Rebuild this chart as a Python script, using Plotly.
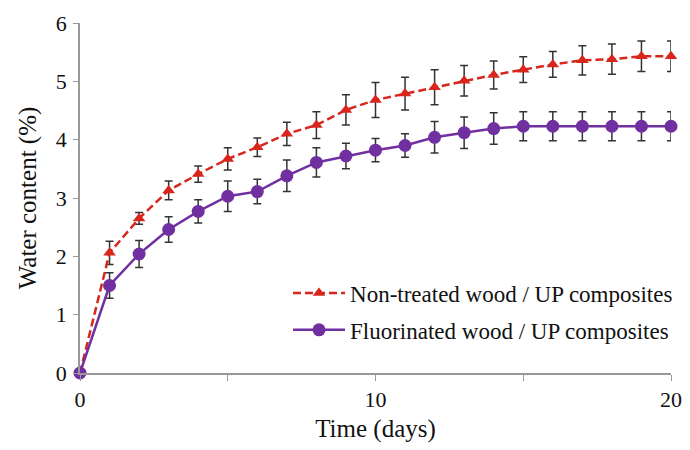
import plotly.graph_objects as go

days = list(range(0, 21))

nontreated = [0, 2.06, 2.65, 3.13, 3.41, 3.67, 3.87, 4.10, 4.25, 4.51, 4.68,
              4.79, 4.90, 5.01, 5.11, 5.20, 5.29, 5.36, 5.38, 5.43, 5.43]
nontreated_err = [0, 0.20, 0.10, 0.16, 0.14, 0.19, 0.16, 0.20, 0.23, 0.26, 0.30,
                  0.28, 0.30, 0.26, 0.24, 0.22, 0.22, 0.25, 0.26, 0.26, 0.26]

fluorinated = [0, 1.50, 2.04, 2.46, 2.77, 3.03, 3.11, 3.38, 3.61, 3.72, 3.82,
               3.90, 4.04, 4.12, 4.19, 4.23, 4.23, 4.23, 4.23, 4.23, 4.23]
fluorinated_err = [0, 0.22, 0.23, 0.22, 0.20, 0.26, 0.21, 0.27, 0.25, 0.22, 0.20,
                   0.20, 0.27, 0.27, 0.27, 0.25, 0.25, 0.25, 0.25, 0.25, 0.25]

x_tickvals = [0, 5, 10, 15, 20]
x_ticktext = ["0", "", "10", "", "20"]
y_tickvals = [0, 1, 2, 3, 4, 5, 6]

serif = "Times New Roman, Liberation Serif, DejaVu Serif, serif"

fig = go.Figure()
fig.add_trace(go.Scatter(
    x=days, y=nontreated, mode="lines+markers",
    name="Non-treated wood / UP composites", legendgroup="a",
    line=dict(color="#d8261c", width=2.5, dash="8px,4px"),
    marker=dict(symbol="triangle-up", size=11, color="#d8261c"),
    error_y=dict(type="data", array=nontreated_err, color="#333333", thickness=1.5, width=4),
    cliponaxis=False,
))
fig.add_trace(go.Scatter(
    x=days, y=fluorinated, mode="lines+markers",
    name="Fluorinated wood / UP composites", legendgroup="b",
    line=dict(color="#7030a0", width=2.5),
    marker=dict(symbol="circle", size=13, color="#7030a0"),
    error_y=dict(type="data", array=fluorinated_err, color="#333333", thickness=1.5, width=4),
    cliponaxis=False,
))

fig.update_layout(
    width=690, height=450,
    margin=dict(l=80, r=12, t=23, b=77),
    plot_bgcolor="white", paper_bgcolor="white",
    font=dict(family=serif, size=20, color="#111111"),
    showlegend=True,
    legend=dict(x=0.352, y=0.29, xanchor="left", yanchor="top",
                bgcolor="rgba(255,255,255,0)", font=dict(size=23, family=serif),
                itemwidth=52, tracegroupgap=4),
    xaxis=dict(range=[0, 20], tickvals=x_tickvals, ticktext=x_ticktext,
               showline=True, linecolor="#999999", linewidth=1.5,
               ticks="outside", ticklen=6, tickcolor="#999999",
               showgrid=False, zeroline=False, automargin=False,
               tickfont=dict(size=22, family=serif),
               title=dict(text="Time (days)", font=dict(size=25, family=serif), standoff=8)),
    yaxis=dict(range=[0, 6], tickvals=y_tickvals,
               showline=True, linecolor="#999999", linewidth=1.5,
               ticks="outside", ticklen=5, tickcolor="#999999",
               ticklabelstandoff=2,
               showgrid=False, zeroline=False, automargin=False,
               tickfont=dict(size=22, family=serif),
               title=dict(text="Water content (%)", font=dict(size=25, family=serif), standoff=12)),
)

fig.write_html(
    "out.html",
    config={"displayModeBar": False},
    post_script="document.body.style.margin='0';document.body.style.overflow='hidden';",
)
